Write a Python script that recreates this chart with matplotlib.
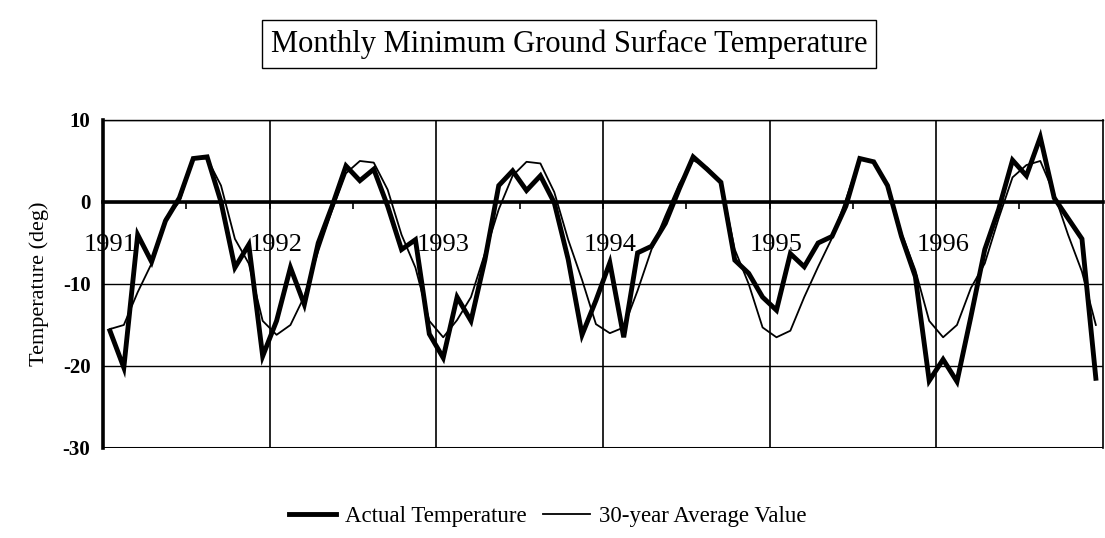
import numpy as np
import matplotlib
matplotlib.use("Agg")
import matplotlib.pyplot as plt

# monthly values, Jan 1991 .. Dec 1996
years = [1991, 1992, 1993, 1994, 1995, 1996]

actual = [
    -15.7, -20.2, -4.0, -7.3, -2.3, 0.5, 5.3, 5.5, 0.0, -8.0, -5.2, -18.8,     # 1991
    -14.5, -8.0, -12.5, -5.0, -0.5, 4.4, 2.6, 4.0, -0.5, -5.8, -4.6, -16.1,    # 1992
    -19.0, -11.6, -14.5, -7.1, 2.0, 3.8, 1.4, 3.2, -0.1, -7.0, -16.2, -12.0,   # 1993
    -7.4, -16.5, -6.2, -5.4, -2.6, 1.6, 5.5, 4.0, 2.4, -7.1, -8.7, -11.6,      # 1994
    -13.2, -6.3, -7.9, -5.0, -4.2, -0.5, 5.3, 4.9, 2.0, -4.2, -9.1, -21.8,     # 1995
    -19.2, -21.9, -14.0, -5.8, -0.9, 5.1, 3.2, 7.9, 0.5, -2.0, -4.5, -21.5,    # 1996
]

average = [
    -15.5, -15.0, -11.0, -7.5, -2.0, 0.0, 5.3, 5.3, 2.0, -4.5, -7.5, -14.5,    # 1991
    -16.2, -15.0, -11.5, -6.0, -1.0, 3.5, 5.0, 4.8, 1.5, -4.0, -8.0, -14.5,    # 1992
    -16.5, -14.4, -11.6, -6.3, -0.9, 3.2, 4.9, 4.7, 1.2, -4.6, -9.5, -14.9,    # 1993
    -16.0, -15.3, -10.8, -5.8, -1.7, 2.2, 5.1, 4.2, 2.4, -5.8, -10.0, -15.3,   # 1994
    -16.5, -15.7, -11.6, -7.9, -4.4, 0.3, 5.3, 4.9, 2.0, -3.8, -8.3, -14.5,    # 1995
    -16.5, -15.0, -10.5, -7.5, -2.0, 3.0, 4.5, 5.0, 1.0, -4.0, -8.5, -15.0,    # 1996
]

yticks = [10, 0, -10, -20, -30]

serif = ['Liberation Serif', 'DejaVu Serif']
plt.rcParams['font.family'] = serif

fig = plt.figure(figsize=(11.05, 5.38), dpi=100, facecolor='white')
ax = fig.add_axes([0.0932, 0.1673, 0.9048, 0.6097])

x = np.arange(len(actual)) + 0.5
ax.plot(x, actual, color='black', lw=3.5, solid_joinstyle='miter', zorder=4,
        label='Actual Temperature')
ax.plot(x, average, color='black', lw=1.3, zorder=3,
        label='30-year Average Value')

ax.set_xlim(0, len(actual))
ax.set_ylim(-30, 10)

# horizontal grid + year boundaries
for v in yticks:
    ax.axhline(v, color='black', lw=1.0, zorder=1)
for k in range(1, len(years)):
    ax.axvline(12 * k, color='black', lw=1.2, zorder=1)

# category axis crosses at zero
ax.spines['bottom'].set_position(('data', 0))
ax.spines['bottom'].set_linewidth(2.6)
ax.axhline(-30, color='black', lw=2.2, zorder=2)
ax.spines['left'].set_linewidth(2.6)
ax.spines['top'].set_linewidth(1.0)
ax.spines['right'].set_linewidth(1.2)

ax.set_xticks(np.arange(6, len(actual), 6))
ax.set_xticklabels([])
ax.tick_params(axis='x', direction='out', length=5, width=1.2)

ax.set_yticks(yticks)
ax.set_yticklabels([str(v) for v in yticks], fontsize=15, fontweight='bold')
ax.tick_params(axis='y', length=0, pad=9)

for k, yr in enumerate(years):
    ax.text(12 * k + 0.5, -5.2, str(yr), ha='center', va='center',
            fontsize=19, zorder=5)

ax.set_ylabel('Temperature (deg)', fontsize=16, labelpad=10)

fig.text(0.515, 0.918, 'Monthly Minimum Ground Surface Temperature',
         ha='center', va='center', fontsize=22,
         bbox=dict(boxstyle='square,pad=0.3', facecolor='white',
                   edgecolor='black', lw=1.0))

ax.legend(loc='center', bbox_to_anchor=(0.445, -0.21), ncol=2, frameon=False,
          fontsize=16.5, handlelength=2.05, handletextpad=0.4, columnspacing=0.7)

fig.savefig('out.png', dpi=100, facecolor='white')
